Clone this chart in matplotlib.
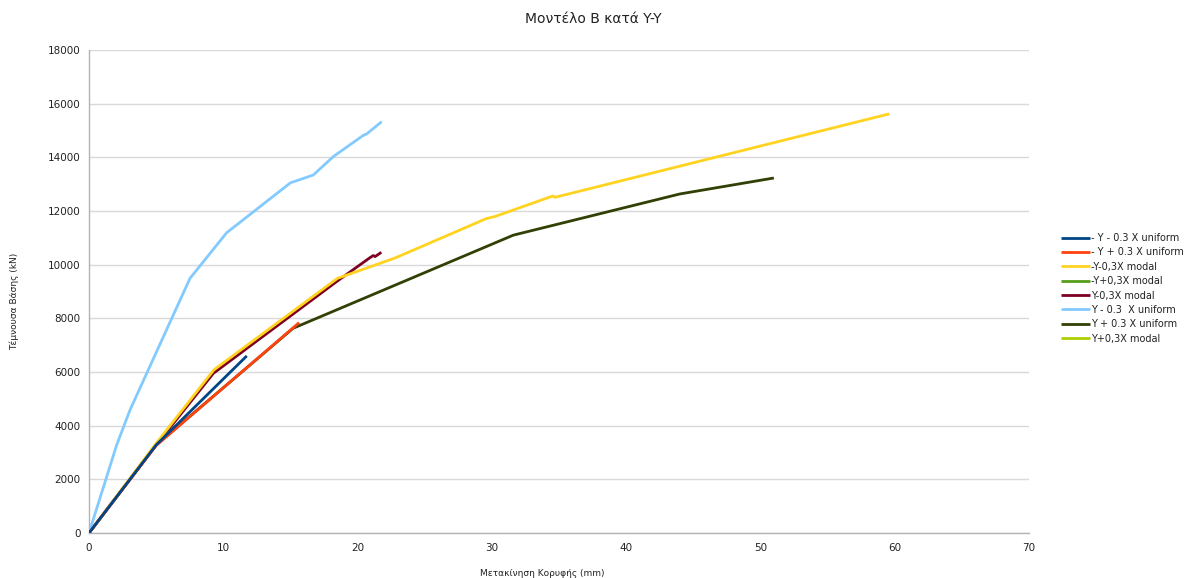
import matplotlib
matplotlib.use("Agg")
import matplotlib.pyplot as plt

plt.rcParams['font.family'] = ['DejaVu Sans']

# Pushover curves: roof displacement (mm) vs base shear (kN)
labels = [
    "- Y - 0.3 X uniform",
    "- Y + 0.3 X uniform",
    "-Y-0,3X modal",
    "-Y+0,3X modal",
    "Y-0,3X modal",
    "Y - 0.3  X uniform",
    "Y + 0.3 X uniform",
    "Y+0,3X modal",
]
colors = ["#004586", "#ff420e", "#ffd320", "#579d1c",
          "#7e0021", "#83caff", "#314004", "#aecf00"]

negY_minus_uniform_x = [0, 5.0, 11.75]
negY_minus_uniform_y = [0, 3280, 6600]

negY_plus_uniform_x = [0, 5.0, 15.65]
negY_plus_uniform_y = [0, 3260, 7840]

negY_minus_modal_x = [0, 5.0, 9.3, 18.5, 22.8, 29.6, 30.2, 34.55, 34.7, 59.6]
negY_minus_modal_y = [0, 3340, 6080, 9490, 10250, 11720, 11790, 12560, 12510, 15620]

negY_plus_modal_x = []
negY_plus_modal_y = []

posY_minus_modal_x = [0, 5.0, 9.26, 18.44, 20.92, 21.17, 21.3, 21.77]
posY_minus_modal_y = [0, 3280, 5950, 9370, 10260, 10340, 10300, 10460]

posY_minus_uniform_x = [0, 2.06, 3.05, 7.52, 10.25, 15.0, 16.7, 18.2, 20.4, 20.7, 21.8]
posY_minus_uniform_y = [0, 3280, 4580, 9490, 11190, 13050, 13340, 14030, 14810, 14880, 15330]

posY_plus_uniform_x = [0, 5.0, 15.2, 31.6, 44.0, 51.0]
posY_plus_uniform_y = [0, 3280, 7630, 11100, 12635, 13230]

posY_plus_modal_x = []
posY_plus_modal_y = []

series = [
    (negY_minus_uniform_x, negY_minus_uniform_y, 9),
    (negY_plus_uniform_x, negY_plus_uniform_y, 8),
    (negY_minus_modal_x, negY_minus_modal_y, 5),
    (negY_plus_modal_x, negY_plus_modal_y, 4),
    (posY_minus_modal_x, posY_minus_modal_y, 4.5),
    (posY_minus_uniform_x, posY_minus_uniform_y, 6),
    (posY_plus_uniform_x, posY_plus_uniform_y, 3),
    (posY_plus_modal_x, posY_plus_modal_y, 4),
]

x_ticks = list(range(0, 71, 10))
y_ticks = list(range(0, 18001, 2000))

fig = plt.figure(figsize=(11.84, 5.78), dpi=100)
ax = fig.add_axes([89 / 1184, 1 - 533 / 578, (1029 - 89) / 1184, (533 - 50) / 578])

handles = []
for (xs, ys, z), lab, col in zip(series, labels, colors):
    h, = ax.plot(xs, ys, color=col, lw=2.0, label=lab, zorder=z,
                 solid_joinstyle='round', solid_capstyle='butt')
    handles.append(h)

ax.set_xlim(0, 70)
ax.set_ylim(0, 18000)
ax.set_xticks(x_ticks)
ax.set_yticks(y_ticks)
ax.yaxis.grid(True, color="#d9d9d9", lw=1.0, zorder=0)
ax.set_axisbelow(True)
ax.tick_params(axis='both', length=0, labelsize=7.5, colors="#222222")
ax.tick_params(axis='y', pad=6)
ax.tick_params(axis='x', pad=7)
for s in ("top", "right"):
    ax.spines[s].set_visible(False)
for s in ("left", "bottom"):
    ax.spines[s].set_color("#b3b3b3")
    ax.spines[s].set_linewidth(1.0)

fig.text(593 / 1184, 1 - 19 / 578, "Μοντέλο Β κατά Y-Y", ha='center', va='center',
         fontsize=10, color="#222222")
fig.text(542 / 1184, 1 - 573 / 578, "Μετακίνηση Κορυφής (mm)", ha='center', va='center',
         fontsize=6.5, color="#222222")
fig.text(14 / 1184, 1 - 301 / 578, "Τέμνουσα Βάσης (kN)", ha='center', va='center',
         rotation=90, fontsize=6.5, color="#222222")

fig.legend(handles=handles, labels=labels, loc='upper left',
           bbox_to_anchor=(1061 / 1184, 1 - 233 / 578), frameon=False,
           fontsize=7, handlelength=3.0, handletextpad=0.1,
           labelspacing=0.45, borderpad=0, borderaxespad=0,
           labelcolor="#222222")

fig.savefig("out.png", dpi=100)
